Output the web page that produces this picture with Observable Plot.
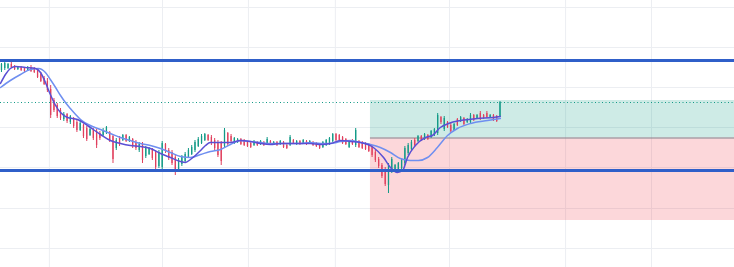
<!DOCTYPE html>
<html><head><meta charset="utf-8">
<script src="https://cdn.jsdelivr.net/npm/d3@7"></script>
<script src="https://cdn.jsdelivr.net/npm/@observablehq/plot@0.6"></script>
<style>html,body{margin:0;padding:0;background:#fff;overflow:hidden}</style>
</head><body><div id="chart"></div>
<script>
// OHLC bars (index = bar number)
const opens = [197,199,199,203,201,198,200,199,197,200,
199,197,193,189,186,178,167,162,157,148,
153,145,149,145,137,142,139,132,137,136,
134,132,135,135,131,119,129,127,132,126,
128,125,117,123,111,113,118,115,101,100,
123,117,115,110,98,103,106,110,113,117,
121,124,127,132,130,127,125,124,121,134,
131,124,125,128,127,125,124,122,125,123,
125,123,126,123,125,123,125,122,122,127,
123,126,124,126,124,125,124,122,120,122,
123,126,133,132,130,128,120,127,122,126,
125,124,123,120,115,108,102,98,82,96,
96,97,99,104,114,118,127,126,131,128,
132,130,132,134,150,138,145,142,137,148,
146,149,145,145,152,149,154,152,154,150,
152,151,151];
const highs = [204,205,204,207,202,201,201,200,201,202,
200,199,195,191,189,182,169,164,159,155,
154,152,150,147,146,143,141,140,139,138,
136,139,141,136,133,129,131,133,133,131,
129,127,125,125,121,120,119,117,117,126,
124,119,117,112,109,112,115,119,122,127,
130,133,134,133,132,129,127,126,139,135,
133,130,129,129,128,126,125,127,126,127,
126,130,127,126,126,127,126,124,132,128,
127,127,128,127,127,126,125,124,126,128,
130,134,134,133,131,129,126,128,139,127,
126,125,124,122,117,110,104,100,104,110,
103,105,109,121,124,127,129,132,132,134,
133,137,139,154,151,151,146,144,144,149,
151,150,149,154,153,153,156,153,156,153,
153,152,166];
const lows = [195,197,198,199,197,197,196,195,196,195,
194,189,185,182,175,149,155,149,147,146,
144,143,139,135,136,129,126,131,127,119,
127,131,133,125,104,117,121,126,125,125,
119,117,115,104,109,112,107,97,99,98,
114,107,102,92,97,101,105,109,112,115,
120,123,126,126,122,117,110,102,119,121,
125,123,124,122,121,120,119,121,121,122,
121,122,122,122,121,122,119,118,121,123,
122,122,123,122,123,121,120,118,119,121,
122,125,126,126,123,122,119,122,120,119,
118,117,115,110,105,99,89,81,74,94,
95,95,97,102,112,116,120,125,126,127,
127,129,131,132,143,136,139,134,136,141,
145,142,144,144,146,148,147,148,149,149,
146,145,150];
const closes = [203,204,203,200,198,200,197,196,200,196,
195,190,186,183,177,152,157,151,149,153,
146,151,141,137,144,131,128,138,129,122,
129,137,140,127,108,127,123,132,126,130,
121,119,123,107,120,119,109,100,115,124,
116,109,104,96,107,110,113,117,120,125,
128,131,133,127,124,119,112,106,137,123,
126,129,128,123,122,121,120,126,122,126,
122,128,123,125,122,126,120,119,130,124,
126,123,127,123,126,122,121,119,125,127,
129,133,127,127,124,123,125,123,137,120,
119,118,116,112,107,101,91,83,102,108,
102,104,107,119,122,125,122,131,127,133,
128,136,138,152,145,149,140,136,143,142,
150,143,148,152,147,152,148,149,150,152,
147,146,165];

// moving averages: [bar index, price]
const maFast = [[-0.3,184],[1.2,193],[2.7,199],[4.3,201],[7.3,200],[10.4,199],[11.9,195],[13.4,185],[14.9,173],[16.5,162],[18.0,155],[20.1,150],[23.2,148],[26.2,142],[30.2,133],[33.2,127],[36.3,124],[39.3,122],[42.4,121],[45.4,119],[48.5,114],[51.5,110],[54.6,106],[56.1,105],[57.6,108],[59.1,112],[60.7,117],[62.2,122],[63.7,125],[66.8,125],[69.8,125],[72.9,127],[75.9,126],[79.0,124],[82.0,123],[85.1,124],[88.1,124],[91.2,124],[94.2,124],[97.3,123],[100.3,124],[103.4,127],[106.4,126],[109.5,125],[113.4,120],[116.5,110],[118.6,100],[120.7,95],[122.3,97],[123.8,110],[126.2,122],[129.3,130],[131.4,132],[133.8,140],[136.3,144],[140.0,147],[145.1,149],[150.0,150],[152.1,151]];
const maSlow = [[-0.3,180],[2.7,187],[5.8,193],[8.8,198],[11.3,199],[13.4,195],[14.9,188],[16.5,180],[18.0,172],[19.5,165],[21.0,159],[22.6,153],[24.1,148],[27.1,142],[30.2,138],[33.2,134],[36.3,130],[39.3,127],[42.4,124],[45.4,122],[48.5,119],[51.5,115],[54.6,111],[57.6,110],[60.7,113],[63.7,116],[66.8,118],[69.8,123],[72.9,127],[75.9,126],[79.0,125],[82.0,124],[85.1,124],[88.1,124],[91.2,124],[94.2,125],[97.3,124],[100.3,124],[103.4,126],[106.4,127],[109.5,125],[112.5,123],[115.5,120],[118.6,115],[121.6,109],[124.7,107],[127.1,107],[129.9,110],[132.9,120],[136.0,132],[139.0,139],[143.0,144],[148.2,147],[152.1,149]];

// levels
const rangeLevels = [207, 97];
const lastPrice = 165;
const positionStart = 112.5;
const positionEnd = 223.5;
const targetPrice = 167;
const entryPrice = 129.5;
const stopPrice = 47;
const gridPrices = [19, 59, 100, 140, 180, 220, 260];
const gridTimes = [14.6, 49.1, 75.3, 101.8, 136.6, 172.0, 198.2];

const UP = "#139a87", DOWN = "#e0405e";
const bars = opens.map((o, i) => ({i, o, h: highs[i], l: lows[i], c: closes[i]}));
const col = d => d.c >= d.o ? UP : DOWN;

const chart = Plot.plot({
  width: 734, height: 267,
  marginTop: 0, marginRight: 0, marginBottom: 0, marginLeft: 0,
  x: {domain: [-0.3, 223.5], axis: null},
  y: {domain: [0, 267], axis: null},
  marks: [
    Plot.ruleY(gridPrices, {stroke: "#eceef2", strokeWidth: 1}),
    Plot.ruleX(gridTimes, {stroke: "#eceef2", strokeWidth: 1}),
    Plot.rect([{a: positionStart, b: positionEnd, lo: entryPrice, hi: targetPrice}], {x1: "a", x2: "b", y1: "lo", y2: "hi", fill: "rgba(8,153,129,0.2)"}),
    Plot.rect([{a: positionStart, b: positionEnd, lo: stopPrice, hi: entryPrice}], {x1: "a", x2: "b", y1: "lo", y2: "hi", fill: "rgba(242,54,69,0.2)"}),
    Plot.ruleY([entryPrice], {x1: positionStart, x2: positionEnd, stroke: "#80838c", strokeWidth: 1}),
    Plot.ruleY([lastPrice], {stroke: UP, strokeWidth: 1, strokeDasharray: "1,2.5"}),
    Plot.ruleX(bars, {x: "i", y1: "l", y2: "h", stroke: col, strokeWidth: 1}),
    Plot.ruleX(bars, {x: "i", y1: "o", y2: "c", stroke: col, strokeWidth: 1.3}),
    Plot.line(maSlow, {x: d => d[0], y: d => d[1], stroke: "#6f8ff0", strokeWidth: 1.5, curve: "monotone-x"}),
    Plot.line(maFast, {x: d => d[0], y: d => d[1], stroke: "#5a4fd4", strokeWidth: 1.5, curve: "monotone-x"}),
    Plot.ruleY(rangeLevels, {stroke: "#2f5fc9", strokeWidth: 2.8})
  ]
});
document.getElementById("chart").appendChild(chart);
</script>
</body></html>
